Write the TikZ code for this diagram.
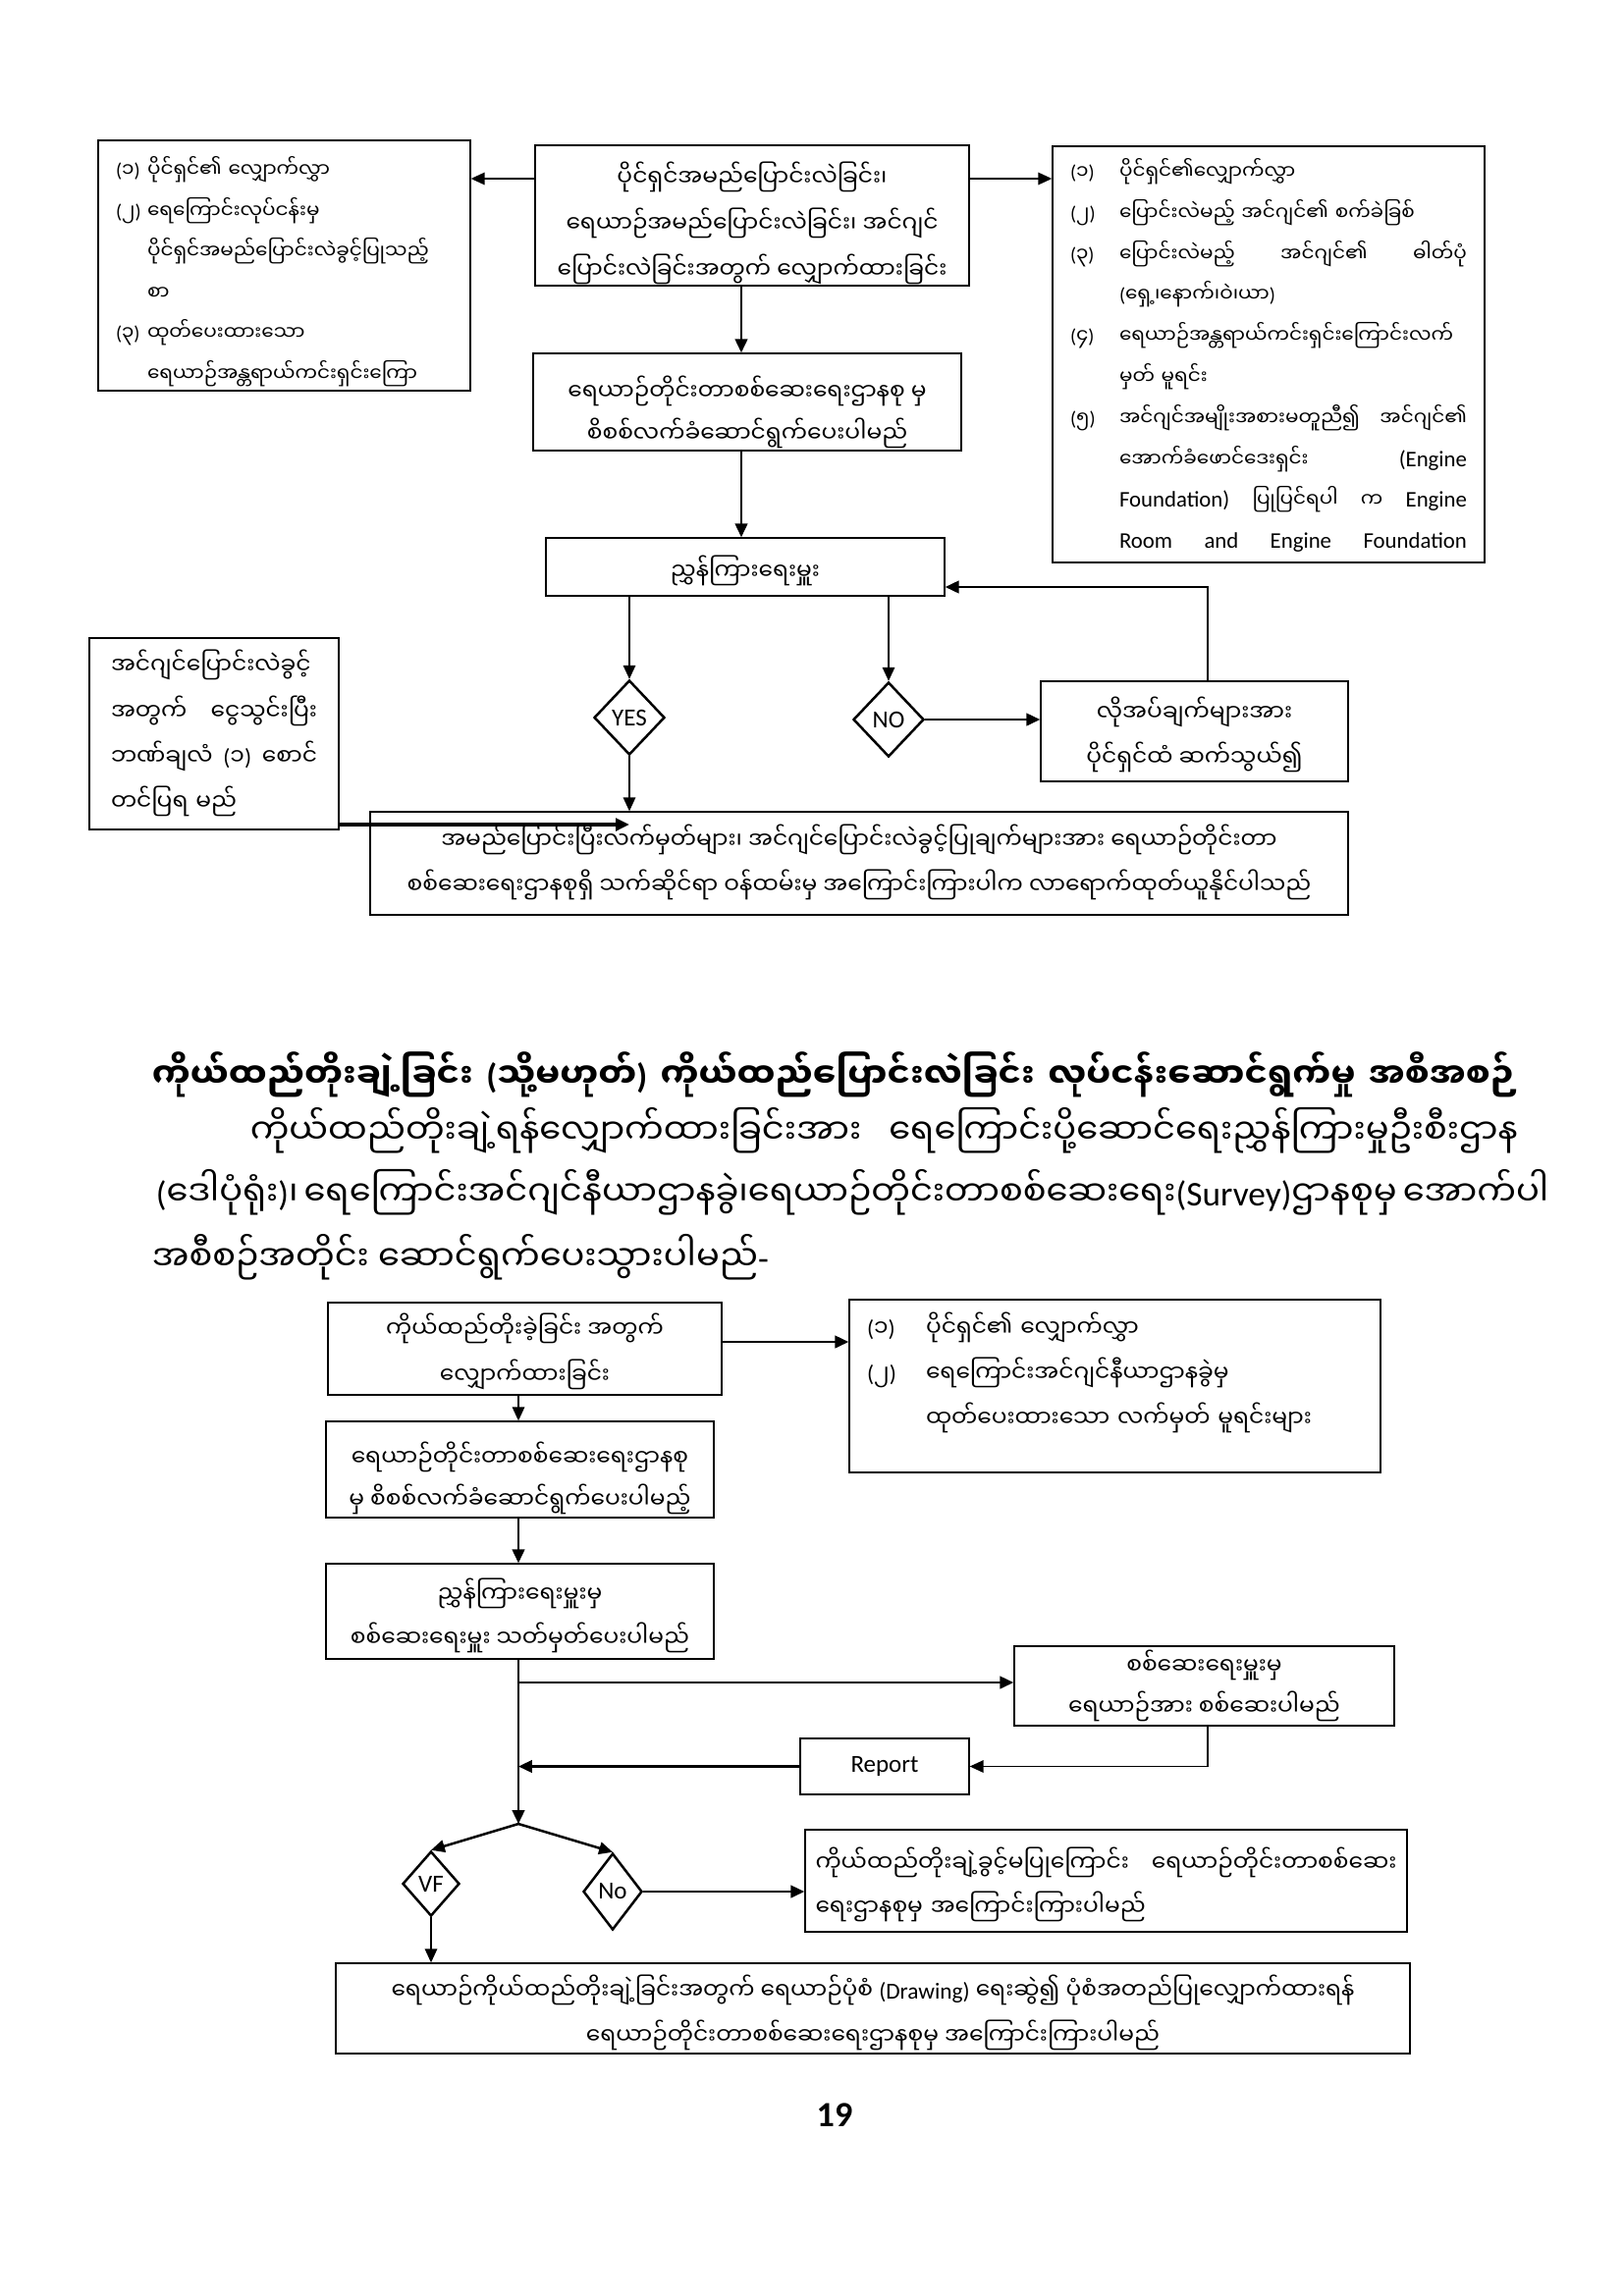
\documentclass[tikz,border=0pt]{standalone}
\usepackage{fontspec}
\setmainfont[Script=Myanmar]{Noto Sans Myanmar UI}
\newfontfamily\lat{Carlito}
\usetikzlibrary{shapes.geometric,arrows.meta}

\newdimen\px \px=0.35993pt
\lineskiplimit=-50pt
\newlength\numw
\newlength\lstw
\newcommand{\nb}[1]{{\lat(}#1{\lat)}}
\newcommand{\latbig}{\lat\fontsize{8.2}{15.05}\selectfont}
\newcommand{\spread}[2]{\makebox[#1][s]{\spaceskip=0pt\relax#2}}
\newcommand{\listline}[2]{\makebox[\numw][l]{#1}#2}
\newcommand{\listjust}[2]{\makebox[\numw][l]{#1}\spread{\dimexpr\lstw-\numw\relax}{#2}}
\newcommand{\headfont}{\fontsize{12.6}{15}\selectfont\bfseries}
\newcommand{\parafont}{\fontsize{12.7}{15}\selectfont}

\tikzset{
  box/.style={draw, line width=0.5pt, inner sep=0pt},
  area/.style 2 args={minimum width=#1\px, minimum height=#2\px},
  txt/.style n args={3}{label={[font=\fontsize{8.4}{#2}\selectfont, align=center, yshift=#1\px]center:{#3}}},
  lst/.style n args={6}{label={[font=\fontsize{#5}{#2}\selectfont, align=left, text width=#3\px, yshift=#1\px,
      execute at begin node={\global\numw=#4\px\global\lstw=#3\px}]center:{#6}}},
  decision/.style={draw, diamond, line width=0.9pt, inner sep=0pt, font=\lat\fontsize{9}{10}\selectfont},
  link/.style={line width=0.9pt, -{Triangle[length=5pt,width=4.5pt]}},
  thinlink/.style={link, line width=0.5pt}
}

\begin{document}
\begin{tikzpicture}[x=\px, y=-\px]
  \useasboundingbox (0,0) rectangle (1654,2339);

  % Owner / name / engine change
  \node[box, area={379}{255}, lst={-6}{14.95}{343}{32}{7.2}{%
    \listline{\nb{၁}}{ပိုင်ရှင်၏ လျှောက်လွှာ}\\
    \listline{\nb{၂}}{ရေကြောင်းလုပ်ငန်းမှ}\\
    \listline{}{ပိုင်ရှင်အမည်ပြောင်းလဲခွင့်ပြုသည့်}\\
    \listline{}{စာ}\\
    \listline{\nb{၃}}{ထုတ်ပေးထားသော}\\
    \listline{}{ရေယာဉ်အန္တရာယ်ကင်းရှင်းကြော}}] (ownDocs) at (289.5,270.5) {};
  \node[box, area={442}{143}, txt={-8}{17}{ပိုင်ရှင်အမည်ပြောင်းလဲခြင်း၊\\ ရေယာဉ်အမည်ပြောင်းလဲခြင်း၊ အင်ဂျင်\\ ပြောင်းလဲခြင်းအတွက် လျှောက်ထားခြင်း}] (ownReq) at (766,219.5) {};
  \node[box, area={440}{424}, lst={-1}{15.05}{404}{50}{7.2}{%
    \listline{\nb{၁}}{ပိုင်ရှင်၏လျှောက်လွှာ}\\
    \listline{\nb{၂}}{ပြောင်းလဲမည့် အင်ဂျင်၏ စက်ခဲခြစ်}\\
    \listjust{\nb{၃}}{ပြောင်းလဲမည့် အင်ဂျင်၏ ဓါတ်ပုံ}\\
    \listline{}{\nb{ရှေ့၊နောက်၊ဝဲ၊ယာ}}\\
    \listline{\nb{၄}}{ရေယာဉ်အန္တရာယ်ကင်းရှင်းကြောင်းလက်}\\
    \listline{}{မှတ် မူရင်း}\\
    \listjust{\nb{၅}}{အင်ဂျင်အမျိုးအစားမတူညီ၍ အင်ဂျင်၏}\\
    \listjust{}{အောက်ခံဖောင်ဒေးရှင်း {\latbig(Engine}}\\
    \listjust{}{{\latbig Foundation)} ပြုပြင်ရပါ က {\latbig Engine}}\\
    \listjust{}{\latbig Room and Engine Foundation}}] (engDocs) at (1292,361) {};
  \node[box, area={436}{99}, txt={-10.5}{15.2}{ရေယာဉ်တိုင်းတာစစ်ဆေးရေးဌာနစု မှ\\ စိစစ်လက်ခံဆောင်ရွက်ပေးပါမည်}] (survey) at (761,409.5) {};
  \node[box, area={406}{59}, txt={-4}{15}{ညွှန်ကြားရေးမှူး}] (director) at (759,577.5) {};
  \node[decision, minimum width=72\px, minimum height=76\px] (yesDec) at (641,731) {YES};
  \node[decision, minimum width=72\px, minimum height=76\px] (noDec) at (905,733) {NO};
  \node[box, area={254}{195}, lst={0.5}{16.6}{210}{0}{8.4}{%
    အင်ဂျင်ပြောင်းလဲခွင့်\\
    \spread{\lstw}{အတွက် ငွေသွင်းပြီး}\\
    \spread{\lstw}{ဘဏ်ချလံ \nb{၁} စောင်}\\
    တင်ပြရ မည်}] (fee) at (218,747.5) {};
  \node[box, area={313}{102}, txt={-3.5}{16.8}{လိုအပ်ချက်များအား\\ ပိုင်ရှင်ထံ ဆက်သွယ်၍}] (notify) at (1216.5,745) {};
  \node[box, area={996}{105}, txt={1}{16.8}{အမည်ပြောင်းပြီးလက်မှတ်များ၊ အင်ဂျင်ပြောင်းလဲခွင့်ပြုချက်များအား ရေယာဉ်တိုင်းတာ\\ စစ်ဆေးရေးဌာနစုရှိ သက်ဆိုင်ရာ ဝန်ထမ်းမှ အကြောင်းကြားပါက လာရောက်ထုတ်ယူနိုင်ပါသည်}] (collect) at (875,879.5) {};

  \coordinate (lvlTop) at (0,182);
  \coordinate (colMain) at (755,0);
  \coordinate (backCol) at (1230,0);
  \coordinate (backLvl) at (0,598);
  \coordinate (feeLvl) at (0,840);
  \draw[thinlink] (ownReq.west |- lvlTop) -- (ownDocs.east |- lvlTop);
  \draw[thinlink] (ownReq.east |- lvlTop) -- (engDocs.west |- lvlTop);
  \draw[link] (ownReq.south -| colMain) -- (survey.north -| colMain);
  \draw[link] (survey.south -| colMain) -- (director.north -| colMain);
  \draw[thinlink] (director.south -| yesDec.north) -- (yesDec.north);
  \draw[thinlink] (director.south -| noDec.north) -- (noDec.north);
  \draw[link] (noDec.east) -- (noDec.east -| notify.west);
  \draw[link] (notify.north -| backCol) |- (director.east |- backLvl);
  \draw[thinlink] (yesDec.south) -- (yesDec.south |- collect.north);
  \draw[link, line width=1.3pt] (fee.east |- feeLvl) -- (yesDec.south |- feeLvl);

  % Heading and text
  \node[anchor=base west, font=\headfont] (title) at (145,1108) {\spread{1391\px}{ကိုယ်ထည်တိုးချဲ့ခြင်း \nb{သို့မဟုတ်} ကိုယ်ထည်ပြောင်းလဲခြင်း လုပ်ငန်းဆောင်ရွက်မှု အစီအစဉ်}};
  \node[anchor=base west, font=\parafont] (intro1) at (245,1165) {\spread{1291\px}{ကိုယ်ထည်တိုးချဲ့ရန်လျှောက်ထားခြင်းအား ရေကြောင်းပို့ဆောင်ရေးညွှန်ကြားမှုဦးစီးဌာန}};
  \node[anchor=base west, font=\parafont] (intro2) at (149,1228) {\spread{1387\px}{\nb{ဒေါပုံရုံး}၊ ရေကြောင်းအင်ဂျင်နီယာဌာနခွဲ၊ရေယာဉ်တိုင်းတာစစ်ဆေးရေး{\lat(Survey)}ဌာနစုမှ အောက်ပါ}};
  \node[anchor=base west, font=\parafont] (intro3) at (145,1294) {အစီစဉ်အတိုင်း ဆောင်ရွက်ပေးသွားပါမည်{\lat-}};

  % Hull extension
  \node[box, area={401}{94}, txt={-3}{16.7}{ကိုယ်ထည်တိုးခဲ့ခြင်း အတွက်\\ လျှောက်ထားခြင်း}] (extReq) at (534.5,1374) {};
  \node[box, area={541}{176}, lst={14}{16.6}{505}{60}{8.4}{%
    \listline{\nb{၁}}{ပိုင်ရှင်၏ လျှောက်လွှာ}\\
    \listline{\nb{၂}}{ရေကြောင်းအင်ဂျင်နီယာဌာနခွဲမှ}\\
    \listline{}{ထုတ်ပေးထားသော လက်မှတ် မူရင်းများ}}] (extDocs) at (1135.5,1412) {};
  \node[box, area={395}{98}, txt={-9}{15.7}{ရေယာဉ်တိုင်းတာစစ်ဆေးရေးဌာနစု\\ မှ စိစစ်လက်ခံဆောင်ရွက်ပေးပါမည့်}] (extSurvey) at (529.5,1497) {};
  \node[box, area={395}{97}, txt={-4}{16.2}{ညွှန်ကြားရေးမှူးမှ\\ စစ်ဆေးရေးမှူး သတ်မှတ်ပေးပါမည်}] (extDir) at (529.5,1641.5) {};
  \node[box, area={387}{81}, txt={0}{15.2}{စစ်ဆေးရေးမှူးမှ\\ ရေယာဉ်အား စစ်ဆေးပါမည်}] (inspect) at (1226.5,1717.5) {};
  \node[box, area={172}{57}, font=\lat\fontsize{9}{11}\selectfont] (report) at (901,1799.5) {Report};
  \node[decision, minimum width=58\px, minimum height=66\px] (vfDec) at (439,1919) {VF};
  \node[decision, minimum width=60\px, minimum height=78\px] (noDec2) at (624,1927) {No};
  \node[box, area={613}{104}, lst={-4}{16.2}{592}{0}{8.4}{%
    \spread{\lstw}{ကိုယ်ထည်တိုးချဲ့ခွင့်မပြုကြောင်း ရေယာဉ်တိုင်းတာစစ်ဆေး}\\
    ရေးဌာနစုမှ အကြောင်းကြားပါမည်}] (refuse) at (1126.5,1916) {};
  \node[box, area={1094}{92}, txt={-4.5}{16.8}{ရေယာဉ်ကိုယ်ထည်တိုးချဲ့ခြင်းအတွက် ရေယာဉ်ပုံစံ {\lat(Drawing)} ရေးဆွဲ၍ ပုံစံအတည်ပြုလျှောက်ထားရန်\\ ရေယာဉ်တိုင်းတာစစ်ဆေးရေးဌာနစုမှ အကြောင်းကြားပါမည်}] (drawing) at (889,2046) {};

  \coordinate (lvlExt) at (0,1367);
  \coordinate (colExt) at (528,0);
  \coordinate (apex) at (528,1858);
  \coordinate (lvlInsp) at (0,1714);
  \coordinate (repCol) at (1230,0);
  \draw[link] (extReq.east |- lvlExt) -- (extDocs.west |- lvlExt);
  \draw[thinlink] (extReq.south -| colExt) -- (extSurvey.north -| colExt);
  \draw[link] (extSurvey.south -| colExt) -- (extDir.north -| colExt);
  \draw[link] (extDir.south -| colExt) -- (apex);
  \draw[link] (colExt |- lvlInsp) -- (inspect.west |- lvlInsp);
  \draw[thinlink] (inspect.south -| repCol) |- (report.east);
  \draw[link] (report.west) -- (report.west -| colExt);
  \draw[link] (apex) -- (vfDec.north);
  \draw[link] (apex) -- (noDec2.north);
  \draw[link] (noDec2.east) -- (noDec2.east -| refuse.west);
  \draw[thinlink] (vfDec.south) -- (vfDec.south |- drawing.north);

  \node[font=\lat\bfseries\fontsize{13}{15}\selectfont] (pageNo) at (850,2155) {19};
\end{tikzpicture}
\end{document}
